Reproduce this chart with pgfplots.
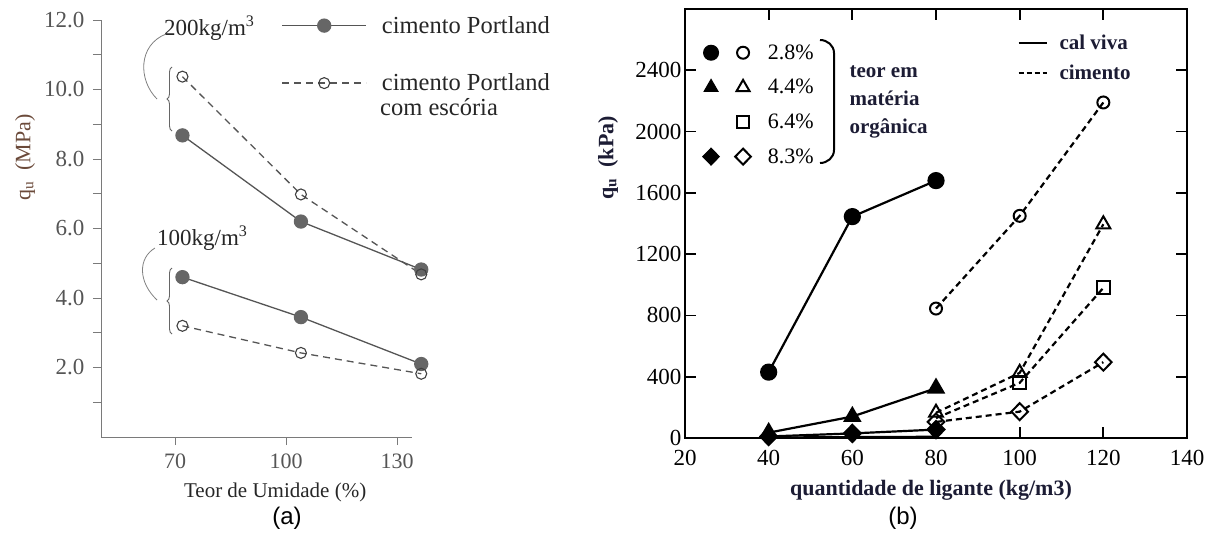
\documentclass[border=0pt]{standalone}
\usepackage{fontspec}
\setmainfont{Liberation Serif}
\newfontfamily\arialf{Liberation Sans}
\usepackage{pgfplots}
\pgfplotsset{compat=1.18}
\usetikzlibrary{decorations.pathreplacing}
\definecolor{lgray}{HTML}{555555}
\definecolor{laxis}{HTML}{7A7A7A}
\definecolor{lmark}{HTML}{666666}
\definecolor{lbrown}{HTML}{6B4A3A}
\definecolor{navy}{HTML}{1C1C34}

\pgfplotstableread{
x y
72 8.68
104 6.20
136.5 4.82
}\aPortA
\pgfplotstableread{
x y
72 10.37
104 6.98
136.5 4.68
}\aEscA
\pgfplotstableread{
x y
72 4.60
104 3.45
136.5 2.10
}\aPortB
\pgfplotstableread{
x y
72 3.20
104 2.42
136.5 1.82
}\aEscB

\begin{document}
\begin{tikzpicture}[x=1pt,y=1pt]
\path[use as bounding box] (0,0) rectangle (1217,-533);

% ---------------- (a) ----------------
\begin{axis}[
  at={(101pt,-437pt)}, anchor=south west,
  scale only axis, width=311pt, height=417pt,
  xmin=50, xmax=134, ymin=0, ymax=12,
  axis x line*=bottom, axis y line*=left,
  axis line style={-, draw=laxis, line width=0.9pt},
  xtick={70,100,130}, ytick={2,4,...,12}, minor ytick={1,3,...,11},
  tick align=outside, major tick length=8pt, minor tick length=8pt,
  every tick/.style={draw=laxis, line width=0.9pt},
  /pgf/number format/assume math mode=true,
  yticklabel style={/pgf/number format/fixed, /pgf/number format/fixed zerofill,
     /pgf/number format/precision=1, font=\fontsize{23}{25}\selectfont, text=lgray, xshift=-5pt},
  xticklabel style={font=\fontsize{22}{24}\selectfont, text=lgray, yshift=-5pt},
  xlabel={Teor de Umidade (\%)},
  xlabel style={at={(rel axis cs:0.56,0)}, anchor=center, yshift=-55pt,
     font=\fontsize{21}{23}\selectfont, text=black!85},
  ylabel={q\textsubscript{u}\ \ (MPa)},
  ylabel style={at={(rel axis cs:0,0.67)}, anchor=center, yshift=76pt,
     font=\fontsize{22}{24}\selectfont, text=lbrown},
  clip=false,
  legend style={at={(rel axis cs:0.58,1.014)}, anchor=north west, draw=none, fill=none,
     font=\fontsize{24.5}{26}\selectfont, text=black!85, cells={anchor=west},
     column sep=13pt, row sep=35pt, inner sep=0pt},
  legend image code/.code={
     \draw[mark repeat=2, mark phase=2, #1] plot coordinates {(0pt,0pt) (42pt,0pt) (84pt,0pt)};},
]
\addplot[draw=lgray, line width=1.3pt, mark=*, mark size=6.5pt,
  mark options={solid, fill=lmark, draw=lmark}] table {\aPortA};
\addplot[draw=lgray, line width=1.3pt, dash pattern=on 7pt off 5pt, mark=o, mark size=5.5pt,
  mark options={solid, fill=white, draw=black!75, line width=1.1pt}] table {\aEscA};
\addplot[draw=lgray, line width=1.3pt, mark=*, mark size=6.5pt,
  mark options={solid, fill=lmark, draw=lmark}, forget plot] table {\aPortB};
\addplot[draw=lgray, line width=1.3pt, dash pattern=on 7pt off 5pt, mark=o, mark size=5.5pt,
  mark options={solid, fill=white, draw=black!75, line width=1.1pt}, forget plot] table {\aEscB};
\legend{{cimento Portland}, {cimento Portland}}
\end{axis}

% annotations (a)
\node[font=\fontsize{24.5}{26}\selectfont, text=black!85, anchor=west, inner sep=0pt] at (380,-107) {com escória};
\node[font=\fontsize{23}{25}\selectfont, text=black!85, anchor=west, inner sep=0pt] at (164,-28) {200kg/m\textsuperscript{3}};
\node[font=\fontsize{23}{25}\selectfont, text=black!85, anchor=west, inner sep=0pt] at (157,-238) {100kg/m\textsuperscript{3}};
\draw[gray, line width=0.8pt] (157,-99) .. controls (138,-80) and (138,-45) .. (166,-34);
\draw[gray, line width=0.8pt] (157,-300) .. controls (138,-282) and (138,-258) .. (155,-248);
\draw[gray!80!black, line width=0.9pt, decorate,
  decoration={brace, amplitude=5pt}] (172,-131) -- (172,-67);
\draw[gray!80!black, line width=0.9pt, decorate,
  decoration={brace, amplitude=5pt}] (172,-334) -- (172,-268);
\node[font=\arialf\fontsize{24}{26}\selectfont] at (287,-518) {(a)};

% ---------------- (b) ----------------
\begin{axis}[
  at={(685pt,-438pt)}, anchor=south west,
  scale only axis, width=502pt, height=429pt,
  xmin=20, xmax=140, ymin=0, ymax=2800,
  axis line style={line width=1.8pt},
  xtick={20,40,...,140}, ytick={0,400,...,2400},
  tick align=inside, major tick length=11pt,
  every tick/.style={draw=black, line width=1.8pt},
  /pgf/number format/assume math mode=true,
  /pgf/number format/1000 sep={},
  tick label style={font=\fontsize{23}{25}\selectfont, text=black},
  xticklabel style={yshift=-9pt},
  xlabel={\textbf{quantidade de ligante (kg/m3)}},
  xlabel style={at={(rel axis cs:0.49,0)}, anchor=center, yshift=-52pt,
     font=\fontsize{22}{24}\selectfont, text=navy},
  ylabel={\textbf{q\textsubscript{u}\ \ (kPa)}},
  ylabel style={at={(rel axis cs:0,0.653)}, anchor=center, yshift=77pt,
     font=\fontsize{22}{24}\selectfont, text=navy},
  clip=false,
  legend style={at={(rel axis cs:0.035,0.922)}, anchor=north west, draw=none, fill=none,
     font=\fontsize{22}{24}\selectfont, cells={anchor=west},
     column sep=15pt, row sep=14.5pt, inner sep=0pt},
]
% cal viva (solid)
\addplot[line width=2.2pt, mark=*, mark size=7.5pt, mark options={solid, fill=black}, forget plot]
  coordinates {(40,430) (60,1445) (80,1680)};
\addplot[line width=2.2pt, mark=triangle*, mark size=8.5pt, mark options={solid, fill=black}, forget plot]
  coordinates {(40,35) (60,140) (80,325)};
\addplot[line width=1.6pt, forget plot]
  coordinates {(40,5) (60,8) (80,10)};
\addplot[line width=2.2pt, mark=diamond*, mark size=8.5pt, mark options={solid, fill=black, xscale=1.3}, forget plot]
  coordinates {(40,10) (60,30) (80,55)};
% cimento (dashed)
\addplot[line width=2.2pt, dash pattern=on 6pt off 4pt, mark=o, mark size=6pt, mark options={solid, fill=white, line width=2pt}, forget plot]
  coordinates {(80,845) (100,1450) (120,2190)};
\addplot[line width=2.2pt, dash pattern=on 6pt off 4pt, mark=square, mark size=6.5pt, mark indices={2,3}, mark options={solid, fill=white, line width=2pt}, forget plot]
  coordinates {(80,130) (100,360) (120,980)};
\addplot[line width=2.2pt, dash pattern=on 6pt off 4pt, mark=triangle, mark size=8pt, mark options={solid, fill=white, line width=2pt}, forget plot]
  coordinates {(80,165) (100,425) (120,1395)};
\addplot[line width=2.2pt, dash pattern=on 6pt off 4pt, mark=diamond, mark size=8.5pt, mark options={solid, fill=white, line width=2pt, xscale=1.3}, forget plot]
  coordinates {(80,105) (100,172) (120,495)};
% marker legend
\addlegendimage{legend image code/.code={
  \path[draw=black, fill=black, line width=1pt] plot[mark=*, mark size=7.5pt, only marks] coordinates {(0pt,0pt)};
  \path[draw=black, fill=white, line width=2pt] plot[mark=o, mark size=6pt, only marks] coordinates {(32pt,0pt)};}}
\addlegendentry{2.8\%}
\addlegendimage{legend image code/.code={
  \path[draw=black, fill=black, line width=1pt] plot[mark=triangle*, mark size=8pt, only marks] coordinates {(0pt,0pt)};
  \path[draw=black, fill=white, line width=2pt] plot[mark=triangle, mark size=7.5pt, only marks] coordinates {(32pt,0pt)};}}
\addlegendentry{4.4\%}
\addlegendimage{legend image code/.code={
  \path (-7.5pt,0pt) -- (-7.5pt,0pt);
  \path[draw=black, fill=white, line width=2pt] plot[mark=square, mark size=6pt, only marks] coordinates {(32pt,0pt)};}}
\addlegendentry{6.4\%}
\addlegendimage{legend image code/.code={
  \path[draw=black, fill=black, line width=1pt] plot[mark=diamond*, mark size=8.5pt, only marks, mark options={xscale=1.3}] coordinates {(0pt,0pt)};
  \path[draw=black, fill=white, line width=2pt] plot[mark=diamond, mark size=8pt, only marks, mark options={xscale=1.3}] coordinates {(32pt,0pt)};}}
\addlegendentry{8.3\%}
\end{axis}

% line-style legend (b)
\begin{axis}[
  at={(685pt,-438pt)}, anchor=south west,
  scale only axis, width=502pt, height=429pt,
  xmin=20, xmax=140, ymin=0, ymax=2800, hide axis,
  legend style={at={(rel axis cs:0.662,0.944)}, anchor=north west, draw=none, fill=none,
     font=\bfseries\fontsize{21}{23}\selectfont, text=navy, cells={anchor=west},
     column sep=10pt, row sep=10pt, inner sep=0pt},
  legend image code/.code={\draw[#1] (0pt,0pt) -- (28pt,0pt);},
]
\addlegendimage{line width=2pt}
\addlegendentry{cal viva}
\addlegendimage{line width=2pt, dash pattern=on 5pt off 3pt}
\addlegendentry{cimento}
\end{axis}

% brace and text (b)
\draw[line width=2pt] (820,-40) to[out=0, in=90] (834,-53) -- (834,-150) to[out=-90, in=0] (820,-163);
\node[font=\bfseries\fontsize{21}{28}\selectfont, text=navy, align=left, anchor=north west] at (846,-62) {teor em\\matéria\\orgânica};
\node[font=\arialf\fontsize{24}{26}\selectfont] at (903,-518) {(b)};
\end{tikzpicture}
\end{document}
